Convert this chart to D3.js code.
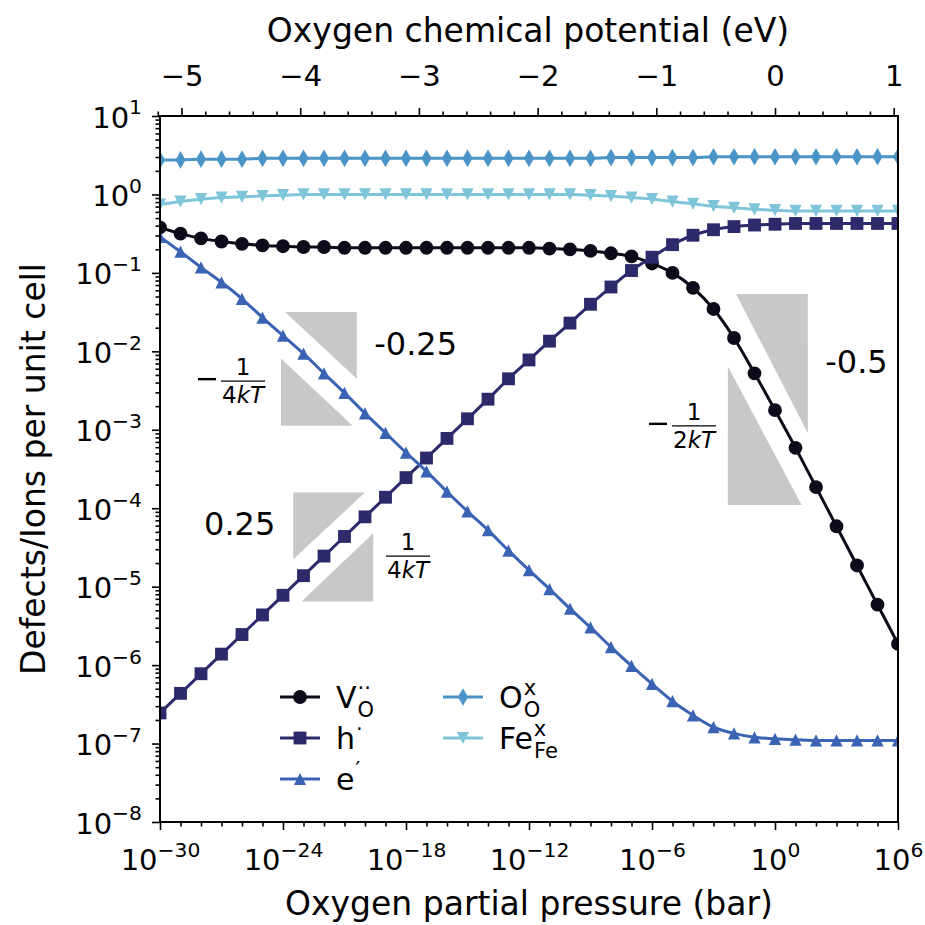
<!DOCTYPE html>
<html>
<head>
<meta charset="UTF-8">
<script src="https://d3js.org/d3.v7.min.js"></script>
<style>
  body { margin: 0; background: #fff; }
  svg text { font-family: "DejaVu Sans", sans-serif; fill: #000; }
</style>
</head>
<body>
<div id="chart"></div>
<script>
// log10 of oxygen partial pressure (bar), one point per decade
const logP = [-30,-29,-28,-27,-26,-25,-24,-23,-22,-21,-20,-19,-18,-17,-16,-15,-14,-13,-12,
              -11,-10,-9,-8,-7,-6,-5,-4,-3,-2,-1,0,1,2,3,4,5,6];
// log10 of concentrations (per unit cell)
const vO   = [-0.42,-0.50,-0.56,-0.60,-0.63,-0.65,-0.66,-0.67,-0.67,-0.68,-0.68,-0.68,-0.68,-0.68,-0.68,-0.68,-0.68,-0.68,-0.68,
              -0.69,-0.70,-0.72,-0.75,-0.79,-0.88,-1.00,-1.19,-1.46,-1.83,-2.28,-2.75,-3.23,-3.73,-4.23,-4.73,-5.23,-5.73];
const hole = [-6.61,-6.36,-6.11,-5.86,-5.61,-5.36,-5.11,-4.86,-4.61,-4.36,-4.11,-3.86,-3.61,-3.36,-3.11,-2.86,-2.61,-2.35,-2.11,
              -1.87,-1.64,-1.40,-1.18,-0.97,-0.80,-0.64,-0.52,-0.45,-0.41,-0.39,-0.38,-0.37,-0.37,-0.37,-0.37,-0.37,-0.37];
const elec = [-0.54,-0.73,-0.93,-1.12,-1.33,-1.57,-1.80,-2.03,-2.28,-2.53,-2.79,-3.04,-3.29,-3.53,-3.79,-4.04,-4.28,-4.54,-4.79,
              -5.03,-5.28,-5.52,-5.77,-6.01,-6.24,-6.46,-6.64,-6.79,-6.87,-6.92,-6.94,-6.95,-6.96,-6.96,-6.96,-6.96,-6.96];
const oO   = [0.44,0.44,0.45,0.45,0.45,0.46,0.46,0.46,0.46,0.46,0.46,0.46,0.46,0.46,0.46,0.46,0.46,0.46,0.46,
              0.46,0.46,0.46,0.47,0.47,0.47,0.47,0.47,0.48,0.48,0.48,0.48,0.48,0.48,0.48,0.48,0.48,0.48];
const feFe = [-0.13,-0.09,-0.06,-0.04,-0.03,-0.02,-0.01,0.00,0.00,0.00,0.00,0.00,0.00,0.00,0.00,0.00,0.00,0.00,0.00,
              0.00,0.00,-0.01,-0.02,-0.04,-0.06,-0.09,-0.12,-0.15,-0.17,-0.19,-0.20,-0.21,-0.21,-0.21,-0.21,-0.21,-0.21];

// axis ticks
const xMajorExp = [-30,-24,-18,-12,-6,0,6];
const yMajorExp = [-8,-7,-6,-5,-4,-3,-2,-1,0,1];
const muTicks = [-5,-4,-3,-2,-1,0,1];
const decadesPerEV = 5.79;

// slope triangles: [logP, logC] corners
const slopeTris = [
  [[-23.9,-1.50],[-20.4,-1.50],[-20.4,-2.35]],
  [[-24.1,-2.09],[-24.1,-2.95],[-20.6,-2.95]],
  [[-23.5,-3.80],[-20.0,-3.80],[-23.5,-4.65]],
  [[-19.6,-4.32],[-19.6,-5.19],[-23.1,-5.19]],
  [[-1.9,-1.27],[1.6,-1.27],[1.6,-3.04]],
  [[-2.3,-2.19],[-2.3,-3.96],[1.3,-3.96]]
];
const slopeText = [
  {t: '-0.25', p: -19.55, c: -2.05},
  {t: '0.25',  p: -27.85, c: -4.34},
  {t: '-0.5',  p: 2.45,   c: -2.28}
];
const fracs = [
  {minus: true,  den: '4', p: -25.95, c: -2.38},
  {minus: false, den: '4', p: -17.9,  c: -4.61},
  {minus: true,  den: '2', p: -3.95,  c: -2.95}
];

const W = 925, H = 925;
const L = 160, R = 898, T = 116, B = 822;

const svg = d3.select('#chart').append('svg').attr('width', W).attr('height', H);

const x = d3.scaleLog().domain([1e-30, 1e6]).range([L, R]);
const y = d3.scaleLog().domain([1e-8, 1e1]).range([B, T]);
const xTop = d3.scaleLinear().domain([-30 / decadesPerEV, 6 / decadesPerEV]).range([L, R]);

svg.append('defs').append('clipPath').attr('id', 'plot')
  .append('rect').attr('x', L).attr('y', T).attr('width', R - L).attr('height', B - T);

// slope triangles
svg.append('g').selectAll('path').data(slopeTris).join('path')
  .attr('d', d => 'M' + d.map(q => [x(10 ** q[0]), y(10 ** q[1])].join(',')).join('L') + 'Z')
  .attr('fill', '#c8c8c8');

// series
const triUp = { draw(ctx, size) { const r = Math.sqrt(size) / 2; ctx.moveTo(0, -r); ctx.lineTo(r, r); ctx.lineTo(-r, r); ctx.closePath(); } };
const triDown = { draw(ctx, size) { const r = Math.sqrt(size) / 2; ctx.moveTo(0, r); ctx.lineTo(r, -r); ctx.lineTo(-r, -r); ctx.closePath(); } };

const series = [
  {vals: vO,   color: '#0b0b19', sym: d3.symbolCircle, size: 150},
  {vals: hole, color: '#2c2a6a', sym: d3.symbolSquare, size: 165},
  {vals: elec, color: '#3a63b4', sym: triUp, size: 150},
  {vals: oO,   color: '#4b94c8', sym: d3.symbolDiamond, size: 90},
  {vals: feFe, color: '#7fc5d9', sym: triDown, size: 150}
];

const line = d3.line().x(d => x(10 ** d[0])).y(d => y(10 ** d[1])).curve(d3.curveMonotoneX);
const plot = svg.append('g').attr('clip-path', 'url(#plot)');
series.forEach(s => {
  const pts = logP.map((p, i) => [p, s.vals[i]]);
  plot.append('path').datum(pts).attr('d', line)
    .attr('fill', 'none').attr('stroke', s.color).attr('stroke-width', 3);
  plot.append('g').selectAll('path').data(pts).join('path')
    .attr('transform', d => `translate(${x(10 ** d[0])},${y(10 ** d[1])})`)
    .attr('d', d3.symbol(s.sym, s.size))
    .attr('fill', s.color);
});

// axes
const fs = 29;
function powLabels(g) {
  g.selectAll('text').each(function (d) {
    const t = d3.select(this);
    const e = Math.round(Math.log10(d));
    t.text(null);
    t.append('tspan').text('10');
    t.append('tspan').attr('dy', -0.45 * fs).style('font-size', (0.7 * fs) + 'px')
      .text(String(e).replace('-', '\u2212'));
  });
}
function styleAxis(g) {
  g.select('.domain').remove();
  g.selectAll('line').attr('stroke', '#000').attr('stroke-width', 1.6);
  g.selectAll('text').style('font-size', fs + 'px').attr('fill', '#000');
}

const xMinor = d3.range(-30, 7).filter(e => !xMajorExp.includes(e)).map(e => 10 ** e);
const yMinor = [];
yMajorExp.slice(0, -1).forEach(e => { for (let k = 2; k < 10; k++) yMinor.push(k * 10 ** e); });
const muMinor = d3.range(-26, 6).map(v => v / 5).filter(v => !muTicks.includes(v));

const gx = svg.append('g').attr('transform', `translate(0,${B})`)
  .call(d3.axisBottom(x).tickValues(xMajorExp.map(e => 10 ** e)).tickSizeInner(8).tickSizeOuter(0));
styleAxis(gx);
gx.selectAll('text').attr('y', 48).attr('dy', null);
powLabels(gx);
svg.append('g').attr('transform', `translate(0,${B})`)
  .call(d3.axisBottom(x).tickValues(xMinor).tickSize(4.5).tickFormat(''))
  .call(styleAxis);

const gy = svg.append('g').attr('transform', `translate(${L},0)`)
  .call(d3.axisLeft(y).tickValues(yMajorExp.map(e => 10 ** e)).tickSizeInner(8).tickSizeOuter(0));
styleAxis(gy);
gy.selectAll('text').attr('x', -18).attr('dy', 11);
powLabels(gy);
svg.append('g').attr('transform', `translate(${L},0)`)
  .call(d3.axisLeft(y).tickValues(yMinor).tickSize(4.5).tickFormat(''))
  .call(styleAxis);

const gt = svg.append('g').attr('transform', `translate(0,${T})`)
  .call(d3.axisTop(xTop).tickValues(muTicks).tickSizeInner(8).tickSizeOuter(0)
    .tickFormat(v => String(v).replace('-', '\u2212')));
styleAxis(gt);
gt.selectAll('text').attr('y', -30).attr('dy', null);
svg.append('g').attr('transform', `translate(0,${T})`)
  .call(d3.axisTop(xTop).tickValues(muMinor).tickSize(4.5).tickFormat(''))
  .call(styleAxis);

svg.append('rect').attr('x', L).attr('y', T).attr('width', R - L).attr('height', B - T)
  .attr('fill', 'none').attr('stroke', '#000').attr('stroke-width', 2);

// titles
const tfs = 33;
svg.append('text').attr('x', (L + R) / 2).attr('y', 915).attr('text-anchor', 'middle')
  .style('font-size', tfs + 'px').text('Oxygen partial pressure (bar)');
svg.append('text').attr('x', (L + R) / 2 - 1).attr('y', 42).attr('text-anchor', 'middle')
  .style('font-size', tfs + 'px').text('Oxygen chemical potential (eV)');
svg.append('text').attr('transform', `translate(45,${(T + B) / 2}) rotate(-90)`)
  .attr('text-anchor', 'middle').style('font-size', tfs + 'px').text('Defects/Ions per unit cell');

// slope annotations
svg.append('g').selectAll('text').data(slopeText).join('text')
  .attr('x', d => x(10 ** d.p)).attr('y', d => y(10 ** d.c))
  .style('font-size', '32px').text(d => d.t);

const ffs = 23;
fracs.forEach(f => {
  const cx = x(10 ** f.p), cy = y(10 ** f.c);
  const g = svg.append('g');
  g.append('line').attr('x1', cx - 22).attr('x2', cx + 22).attr('y1', cy).attr('y2', cy)
    .attr('stroke', '#000').attr('stroke-width', 1.3);
  g.append('text').attr('x', cx).attr('y', cy - 6).attr('text-anchor', 'middle')
    .style('font-size', ffs + 'px').text('1');
  const den = g.append('text').attr('x', cx).attr('y', cy + 22).attr('text-anchor', 'middle')
    .style('font-size', ffs + 'px');
  den.append('tspan').text(f.den);
  den.append('tspan').style('font-style', 'italic').text('kT');
  if (f.minus) {
    g.append('line').attr('x1', cx - 45).attr('x2', cx - 27).attr('y1', cy - 2).attr('y2', cy - 2)
      .attr('stroke', '#000').attr('stroke-width', 2.4);
  }
});

// legend
const legend = [
  {s: 0, col: 0, row: 0, base: 'V',  sub: 'O',  sup: '\u00B7\u00B7'},
  {s: 1, col: 0, row: 1, base: 'h',  sub: null, sup: '\u00B7'},
  {s: 2, col: 0, row: 2, base: 'e',  sub: null, sup: '\u2032'},
  {s: 3, col: 1, row: 0, base: 'O',  sub: 'O',  sup: 'x'},
  {s: 4, col: 1, row: 1, base: 'Fe', sub: 'Fe', sup: 'x'}
];
const legX = [280, 443], legY = 697, legDy = 41, lfs = 30;
const lg = svg.append('g');
legend.forEach(it => {
  const s = series[it.s];
  const x0 = legX[it.col], yc = legY + it.row * legDy;
  lg.append('line').attr('x1', x0).attr('x2', x0 + 40).attr('y1', yc).attr('y2', yc)
    .attr('stroke', s.color).attr('stroke-width', 3);
  lg.append('path').attr('transform', `translate(${x0 + 20},${yc})`)
    .attr('d', d3.symbol(s.sym, s.size)).attr('fill', s.color);
  const t = lg.append('text').attr('x', x0 + 56).attr('y', yc + 11).style('font-size', lfs + 'px');
  t.append('tspan').text(it.base);
  let subW = 0;
  if (it.sub) {
    const ts = t.append('tspan').attr('dx', 1).attr('dy', 0.3 * lfs)
      .style('font-size', (0.7 * lfs) + 'px').text(it.sub);
    subW = ts.node().getComputedTextLength();
  }
  if (it.sup) {
    t.append('tspan').attr('dx', it.sub ? -subW : 1).attr('dy', it.sub ? -0.75 * lfs : -0.45 * lfs)
      .style('font-size', (0.7 * lfs) + 'px').text(it.sup);
  }
});
</script>
</body>
</html>
